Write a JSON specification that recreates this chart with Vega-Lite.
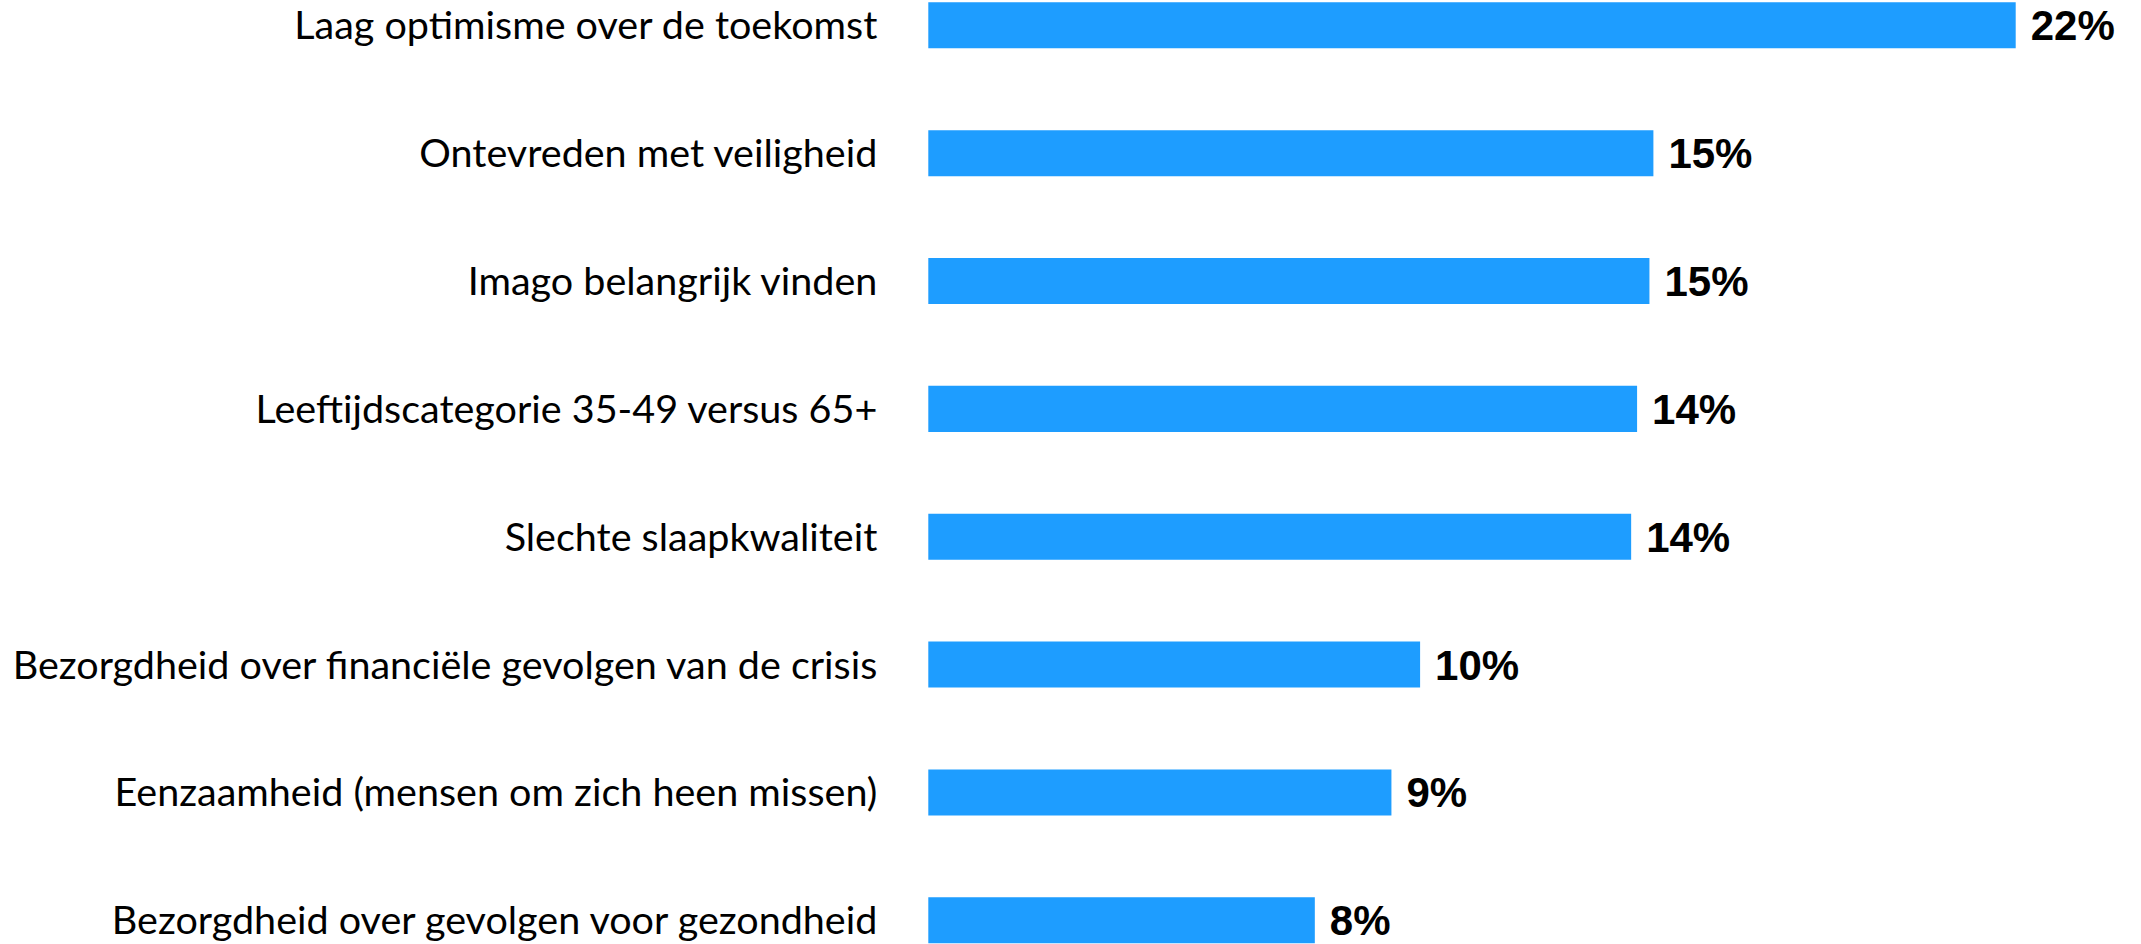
{
  "$schema": "https://vega.github.io/schema/vega-lite/v6.json",
  "autosize": {"type": "none"},
  "width": 1087.4,
  "height": 941,
  "padding": {"left": 928.3, "top": 2.3, "right": 125.3, "bottom": 0.7},
  "background": "white",
  "config": {"view": {"stroke": null}},
  "data": {
    "values": [
      {"categorie": "Laag optimisme over de toekomst", "waarde": 22.0, "label": "22%"},
      {"categorie": "Ontevreden met veiligheid", "waarde": 14.67, "label": "15%"},
      {"categorie": "Imago belangrijk vinden", "waarde": 14.59, "label": "15%"},
      {"categorie": "Leeftijdscategorie 35-49 versus 65+", "waarde": 14.34, "label": "14%"},
      {"categorie": "Slechte slaapkwaliteit", "waarde": 14.22, "label": "14%"},
      {"categorie": "Bezorgdheid over financiële gevolgen van de crisis", "waarde": 9.95, "label": "10%"},
      {"categorie": "Eenzaamheid (mensen om zich heen missen)", "waarde": 9.37, "label": "9%"},
      {"categorie": "Bezorgdheid over gevolgen voor gezondheid", "waarde": 7.82, "label": "8%"}
    ]
  },
  "encoding": {
    "y": {
      "field": "categorie",
      "type": "nominal",
      "sort": null,
      "scale": {"paddingInner": 0.64, "paddingOuter": 0},
      "axis": {
        "title": null,
        "ticks": false,
        "domain": false,
        "labelPadding": 51.5,
        "labelFont": "Lato",
        "labelFontSize": 39.5,
        "labelColor": "#000000",
        "labelLimit": 1000,
        "labelBaseline": "middle",
        "labelOffset": 2
      }
    },
    "x": {
      "field": "waarde",
      "type": "quantitative",
      "scale": {"domain": [0, 22], "nice": false, "zero": true},
      "axis": null
    }
  },
  "layer": [
    {"mark": {"type": "bar", "color": "#1E9DFF"}},
    {
      "mark": {
        "type": "text",
        "align": "left",
        "baseline": "middle",
        "dx": 15,
        "dy": 2,
        "font": "Liberation Sans",
        "fontWeight": "bold",
        "fontSize": 42,
        "color": "#000000"
      },
      "encoding": {"text": {"field": "label"}}
    }
  ]
}
